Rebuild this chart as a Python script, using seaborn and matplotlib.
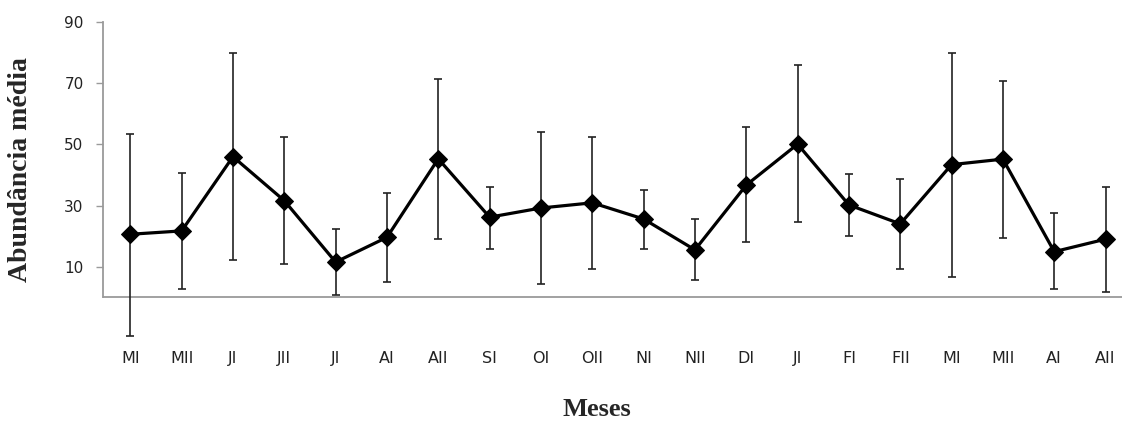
import numpy as np
import pandas as pd
import matplotlib
matplotlib.use("Agg")
import matplotlib.pyplot as plt
import seaborn as sns

# quinzenas (meses I / II)
meses = ["MI", "MII", "JI", "JII", "JI", "AI", "AII", "SI", "OI", "OII",
         "NI", "NII", "DI", "JI", "FI", "FII", "MI", "MII", "AI", "AII"]
media = [20.6, 21.7, 46.0, 31.6, 11.5, 19.6, 45.3, 26.2, 29.2, 30.9,
         25.6, 15.5, 36.7, 50.1, 30.2, 24.0, 43.4, 45.2, 14.9, 19.0]
limite_sup = [53.5, 40.8, 80.0, 52.5, 22.4, 34.2, 71.3, 36.2, 54.0, 52.5,
              35.2, 25.5, 55.6, 75.9, 40.3, 38.7, 80.0, 70.9, 27.7, 36.2]
limite_inf = [-12.6, 2.7, 12.3, 10.8, 0.6, 5.1, 18.9, 15.9, 4.2, 9.2,
              15.9, 5.7, 18.0, 24.5, 19.9, 9.2, 6.7, 19.4, 2.7, 1.6]
yticks = [10, 30, 50, 70, 90]

df = pd.DataFrame({"pos": np.arange(len(meses)), "media": media,
                   "sup": limite_sup, "inf": limite_inf})

sns.set_style("white")
fig = plt.figure(figsize=(11.22, 4.21), dpi=100)
ax = fig.add_axes([103 / 1122, 1 - 343 / 421, 1 - 103 / 1122, (343 - 22.3) / 421])

# barras de erro
err = [df["media"] - df["inf"], df["sup"] - df["media"]]
ax.errorbar(df["pos"], df["media"], yerr=err, fmt="none", ecolor="#222222",
            elinewidth=1.2, capsize=3, capthick=1.2, clip_on=False, zorder=2)

sns.lineplot(data=df, x="pos", y="media", ax=ax, color="black", linewidth=2.3,
             marker="D", markersize=9, markeredgecolor="black", zorder=3)

ax.axhline(0, color="#9a9a9a", linewidth=1.3, clip_on=False, zorder=1)

ax.set_xlim(-0.532, 19.32)
ax.set_ylim(-15, 90)
ax.set_yticks(yticks)
ax.set_xticks(df["pos"])
ax.set_xticklabels(meses)
ax.tick_params(axis="x", length=0, pad=6, labelsize=11.5, labelcolor="#222222")
ax.tick_params(axis="y", left=True, length=5, width=1, color="#9a9a9a",
               pad=9, labelsize=11, labelcolor="#222222")

for s in ["top", "right", "bottom"]:
    ax.spines[s].set_visible(False)
ax.spines["left"].set_color("#9a9a9a")
ax.spines["left"].set_linewidth(1.3)
ax.spines["left"].set_bounds(0, 90)

ax.set_xlabel("")
ax.set_ylabel("")
fig.text(21 / 1122, 1 - 170 / 421, "Abundância média", rotation=90,
         ha="center", va="center", fontsize=20, fontweight="bold",
         family="Liberation Serif")
fig.text(597 / 1122, 1 - 410 / 421, "Meses", ha="center", va="center",
         fontsize=19, fontweight="bold", family="Liberation Serif")

fig.savefig("out.png", dpi=100)
